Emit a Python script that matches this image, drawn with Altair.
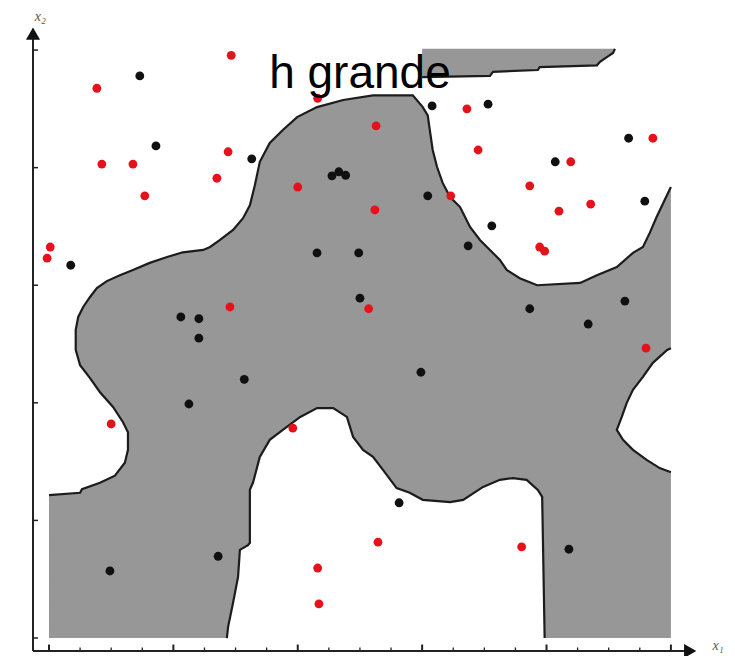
import altair as alt
import pandas as pd

# ---- decision region boundary pieces (x1, x2 data units) ----
edge_a_x = [0, 0.50, 0.53, 0.82, 1.06, 1.22, 1.27, 1.27, 1.19,
            1.03, 0.82, 0.66, 0.50, 0.43, 0.43, 0.47, 0.55, 0.66, 0.77,
            0.93, 1.14, 1.35, 1.62, 1.90, 2.15, 2.48, 2.59, 2.75, 2.96,
            3.12, 3.23, 3.31, 3.39, 3.55, 3.76, 3.99, 4.31, 4.73, 5.21,
            5.85, 6.01, 6.09, 6.13, 6.17, 6.24, 6.33, 6.45, 6.61, 6.77,
            6.93, 7.09, 7.25, 7.36, 7.57, 7.85, 8.54, 8.81, 9.13, 9.39,
            9.55, 9.66, 9.77, 9.90, 10.0]
edge_a_y = [2.43, 2.47, 2.53, 2.64, 2.76, 2.98, 3.20, 3.50, 3.67,
            3.93, 4.18, 4.42, 4.64, 4.90, 5.24, 5.46, 5.63, 5.80, 5.95,
            6.07, 6.17, 6.26, 6.38, 6.48, 6.56, 6.60, 6.65, 6.77, 6.94,
            7.14, 7.36, 7.70, 8.10, 8.42, 8.64, 8.86, 9.03, 9.15, 9.23,
            9.23, 9.03, 8.89, 8.59, 8.30, 8.01, 7.74, 7.50, 7.33, 6.99,
            6.77, 6.60, 6.43, 6.26, 6.12, 6.00, 6.04, 6.17, 6.31, 6.55,
            6.65, 6.89, 7.16, 7.45, 7.67]
edge_b_x = [10.0, 9.94, 9.71, 9.55, 9.39, 9.29, 9.21, 9.13, 9.23, 9.39, 9.61, 9.82, 10.0]
edge_b_y = [4.93, 4.90, 4.68, 4.44, 4.22, 4.00, 3.76, 3.54, 3.37, 3.20, 3.03, 2.89, 2.82]
edge_c_x = [7.97, 7.93, 7.86, 7.68, 7.46, 7.25, 6.98, 6.66, 6.45,
            6.01, 5.80, 5.59, 5.37, 5.21, 5.05, 4.89, 4.79, 4.57, 4.31,
            4.04, 3.76, 3.55, 3.39, 3.28, 3.23, 3.23, 3.20, 3.07, 3.04,
            2.96, 2.88, 2.86]
edge_c_y = [0, 2.40, 2.52, 2.69, 2.72, 2.69, 2.57, 2.35, 2.31,
            2.35, 2.47, 2.55, 2.86, 3.08, 3.20, 3.42, 3.76, 3.91, 3.91,
            3.76, 3.54, 3.37, 3.08, 2.64, 2.52, 1.62, 1.58, 1.50, 1.04,
            0.60, 0.19, 0]
strip_x = [6.00, 9.10, 9.07, 8.97, 8.86, 8.81, 7.89, 7.86, 7.14, 7.09, 6.00]
strip_y = [10.02, 10.02, 9.95, 9.88, 9.80, 9.74, 9.71, 9.66, 9.63, 9.56, 9.54]

# ---- samples ----
red_x = [2.93, 0.77, 4.32, 6.72, 5.26, 2.88, 6.90, 0.85, 1.35, 2.70, 1.54, 4.00, 6.46, 5.24,
         9.71, 8.39, 7.73, 8.71, 8.20, 7.89, 7.97, 0.02, -0.03, 2.91, 5.14, 9.60, 1.00, 3.92,
         5.29, 4.32, 4.34, 7.60]
red_y = [9.91, 9.35, 9.18, 9.00, 8.71, 8.27, 8.30, 8.06, 8.06, 7.82, 7.52, 7.67, 7.52, 7.28,
         8.50, 8.10, 7.69, 7.38, 7.26, 6.65, 6.58, 6.65, 6.46, 5.63, 5.60, 4.93, 3.64, 3.57,
         1.63, 1.19, 0.58, 1.55]
black_x = [1.46, 6.16, 7.06, 1.72, 3.26, 4.55, 4.66, 4.77, 6.09, 7.12, 9.32, 8.14, 9.58, 0.35,
           4.31, 4.98, 6.74, 5.00, 2.12, 2.41, 2.41, 3.14, 2.25, 5.98, 7.73, 8.67, 9.26, 5.63,
           0.98, 2.72, 8.36]
black_y = [9.56, 9.05, 9.08, 8.37, 8.15, 7.86, 7.93, 7.87, 7.52, 7.01, 8.50, 8.10, 7.43, 6.34,
           6.55, 6.55, 6.67, 5.78, 5.46, 5.43, 5.10, 4.40, 3.98, 4.52, 5.60, 5.34, 5.73, 2.30,
           1.14, 1.39, 1.51]

x_ticks = [0, 0.5, 1, 1.5, 2, 2.5, 3, 3.5, 4, 4.5, 5, 5.5, 6, 6.5, 7, 7.5, 8, 8.5, 9, 9.5, 10]
x_major = [0, 2, 4, 6, 8, 10]
y_ticks = [0, 2, 4, 6, 8, 10]

X_MIN, X_MAX = -0.257, 10.5
Y_MIN, Y_MAX = -0.221, 10.46
xs = alt.Scale(domain=[X_MIN, X_MAX], nice=False, zero=False)
ys = alt.Scale(domain=[Y_MIN, Y_MAX], nice=False, zero=False)


def rows(name, px, py):
    return [{"piece": name, "i": i, "x1": a, "x2": b} for i, (a, b) in enumerate(zip(px, py))]


poly = pd.DataFrame(
    rows("main", [0] + edge_a_x + edge_b_x + [10.0] + edge_c_x,
         [0] + edge_a_y + edge_b_y + [0] + edge_c_y)
    + rows("strip", strip_x, strip_y)
)
edges = pd.DataFrame(
    rows("a", edge_a_x, edge_a_y) + rows("b", edge_b_x, edge_b_y)
    + rows("c", edge_c_x, edge_c_y) + rows("s", strip_x[1:], strip_y[1:])
)

enc = dict(
    x=alt.X("x1:Q", scale=xs, axis=None),
    y=alt.Y("x2:Q", scale=ys, axis=None),
    order=alt.Order("i:Q"),
    detail="piece:N",
)

fill = alt.Chart(poly).mark_line(filled=True, color="#979797", strokeWidth=0).encode(**enc)
outline = alt.Chart(edges).mark_line(color="#1c1c1c", strokeWidth=2.2).encode(**enc)

axes_df = pd.DataFrame([
    {"x": X_MIN, "x_end": 10.3, "y": Y_MIN, "y_end": Y_MIN},
    {"x": X_MIN, "x_end": X_MIN, "y": Y_MIN, "y_end": 10.3},
])
axes = alt.Chart(axes_df).mark_rule(color="#222222", strokeWidth=2).encode(
    x=alt.X("x:Q", scale=xs, axis=None), x2="x_end:Q",
    y=alt.Y("y:Q", scale=ys, axis=None), y2="y_end:Q",
)

xt = pd.DataFrame({"x": x_ticks})
xt["y0"] = Y_MIN
xt["y1"] = [Y_MIN + (0.11 if v in x_major else 0.06) for v in x_ticks]
xt["w"] = [2.0 if v in x_major else 1.3 for v in x_ticks]
xtick = alt.Chart(xt).mark_rule(color="#222222").encode(
    x=alt.X("x:Q", scale=xs, axis=None),
    y=alt.Y("y0:Q", scale=ys, axis=None), y2="y1:Q",
    strokeWidth=alt.StrokeWidth("w:Q", scale=None),
)
yt = pd.DataFrame({"y": y_ticks})
yt["x0"] = X_MIN
yt["x1"] = X_MIN + 0.08
ytick = alt.Chart(yt).mark_rule(color="#222222", strokeWidth=1.5).encode(
    y=alt.Y("y:Q", scale=ys, axis=None),
    x=alt.X("x0:Q", scale=xs, axis=None), x2="x1:Q",
)

arrows_df = pd.DataFrame([
    {"x": 10.31, "y": Y_MIN, "s": "triangle-right"},
    {"x": X_MIN, "y": 10.28, "s": "triangle-up"},
])
arrows = alt.Chart(arrows_df).mark_point(filled=True, size=200, color="#111111", opacity=1).encode(
    x=alt.X("x:Q", scale=xs, axis=None),
    y=alt.Y("y:Q", scale=ys, axis=None),
    shape=alt.Shape("s:N", scale=None),
)

pts = pd.DataFrame(
    [{"x1": a, "x2": b, "cls": "black"} for a, b in zip(black_x, black_y)]
    + [{"x1": a, "x2": b, "cls": "red"} for a, b in zip(red_x, red_y)]
)
points = alt.Chart(pts).mark_circle(size=78, opacity=1).encode(
    x=alt.X("x1:Q", scale=xs, axis=None),
    y=alt.Y("x2:Q", scale=ys, axis=None),
    color=alt.Color("cls:N", scale=alt.Scale(domain=["black", "red"], range=["#101010", "#e5121c"]), legend=None),
)

title_df = pd.DataFrame([{"x": 5.0, "y": 9.354, "t": "h grande"}])
title = alt.Chart(title_df).mark_text(
    fontSize=46, font="Liberation Sans", align="center", baseline="alphabetic", color="#000000"
).encode(x=alt.X("x:Q", scale=xs, axis=None), y=alt.Y("y:Q", scale=ys, axis=None), text="t:N")

lab_df = pd.DataFrame([
    {"x": 10.76, "y": -0.13, "t": "x₁"},
    {"x": -0.14, "y": 10.57, "t": "x₂"},
])
labels = alt.Chart(lab_df).mark_text(
    fontSize=14, font="Liberation Serif", fontStyle="italic", align="center", baseline="middle", color="#555555"
).encode(x=alt.X("x:Q", scale=xs, axis=None), y=alt.Y("y:Q", scale=ys, axis=None), text="t:N")

chart = alt.layer(fill, outline, axes, xtick, ytick, arrows, points, title, labels).properties(
    width=669, height=628,
    autosize=alt.AutoSizeParams(type="none"),
    padding={"left": 25, "top": 15, "right": 24, "bottom": 5},
).configure_view(strokeWidth=0)

chart.save("out.html", embed_options={"renderer": "svg", "actions": False})
